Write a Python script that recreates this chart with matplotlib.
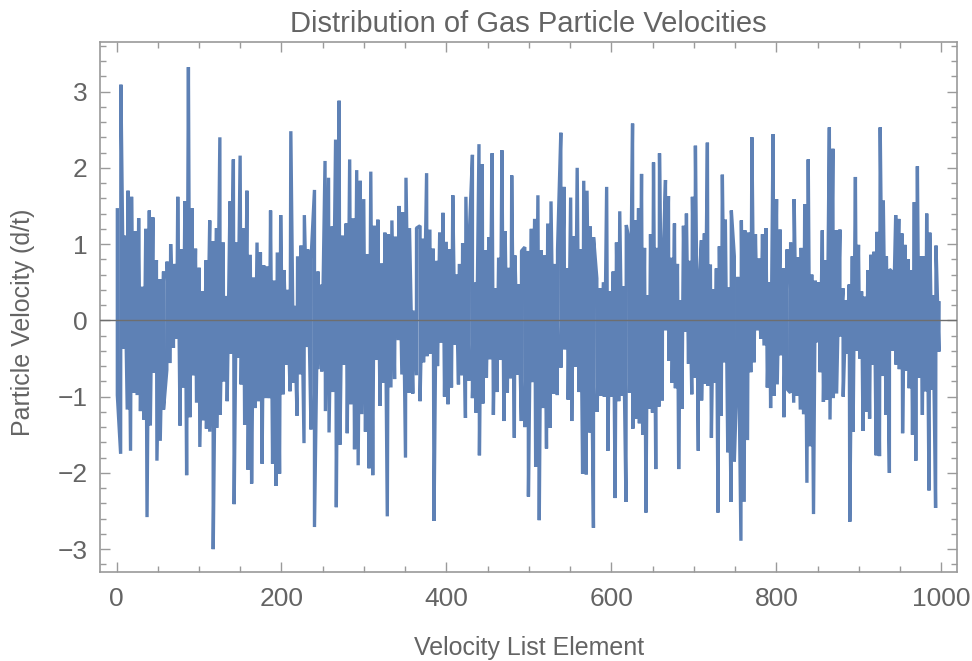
import numpy as np
import matplotlib.pyplot as plt
from matplotlib.ticker import MultipleLocator

# spike tips, grouped by stretch of the x axis
# (upward peaks and downward troughs kept apart, each in left-to-right order)
up_1 = [1.45, 3.09, 1.11, 1.70, 1.62, 1.17, 1.34, 0.44, 1.20, 1.44, 1.35, 0.79, 0.54,
        0.64, 0.77, 1.00, 0.74, 1.62, 0.93, 1.56, 3.32, 1.47, 0.94, 0.69, 0.38, 0.79]
down_1 = [-0.98, -1.75, -0.37, -1.17, -1.71, -0.95, -0.98, -1.19, -1.30, -2.58, -1.38,
          -0.69, -1.84, -1.58, -1.17, -0.65, -0.56, -0.36, -0.24, -1.38, -0.88, -2.03,
          -1.27, -0.72, -1.08, -1.66, -1.31, -1.42]
up_2 = [1.31, 1.04, 1.21, 2.40, 1.02, 0.32, 1.56, 2.11, 1.02, 2.16, 1.21, 1.70, 0.86,
        0.56, 1.02, 0.89, 0.72, 0.71, 1.44, 0.52, 0.89, 1.38, 0.66, 0.40, 2.48, 0.19,
        0.84, 0.98, 1.38, 0.93, 0.81]
down_2 = [-1.46, -3.00, -1.41, -1.24, -0.80, -1.06, -0.44, -2.41, -0.49, -0.84, -1.37,
          -1.96, -2.14, -1.15, -1.06, -1.88, -1.02, -1.02, -1.88, -2.17, -2.01, -0.97,
          -0.58, -0.93, -0.82, -1.25, -0.71, -1.61, -0.35, -1.43]
up_3 = [1.71, 0.64, 0.47, 2.09, 1.87, 1.23, 2.37, 2.88, 1.11, 1.27, 2.11, 1.34, 1.97,
        1.83, 1.59, 0.87, 1.95, 1.24, 1.32, 0.75, 1.15, 1.13, 1.31, 1.10, 1.50, 1.42,
        1.87, 1.21, 0.13, 1.21]
down_3 = [-2.71, -0.64, -0.67, -1.19, -1.47, -0.94, -2.45, -1.63, -0.58, -1.48, -1.10,
          -1.69, -1.90, -1.23, -1.46, -1.94, -2.03, -0.52, -1.12, -0.82, -2.57, -0.88,
          -0.77, -0.26, -0.71, -1.80, -0.95, -0.96, -0.72]
up_4 = [1.24, 1.07, 1.93, 1.19, 0.94, 0.78, 1.15, 1.41, 1.03, 0.93, 1.64, 0.60, 0.74,
        1.01, 1.62, 1.07, 2.17, 0.50, 2.31, 2.05, 0.92, 1.09, 2.19, 0.42, 0.82, 2.23,
        1.17, 0.69, 1.90, 0.85, 0.47, 0.91]
down_4 = [-1.06, -0.55, -0.47, -0.44, -2.63, -0.60, -0.29, -1.00, -1.10, -0.88, -0.32,
          -0.84, -0.72, -1.28, -0.79, -1.02, -1.21, -1.77, -1.09, -0.75, -0.51, -1.24,
          -0.94, -0.52, -1.32, -0.95, -0.76, -1.54, -0.71, -1.32]
up_5 = [0.96, 0.91, 1.20, 1.33, 1.64, 0.92, 0.85, 1.27, 1.56, 0.74, 0.93, 2.46, 1.75,
        0.68, 1.61, 1.10, 2.00, 0.93, 1.83, 1.70, 1.23, 1.09, 0.55, 0.42, 0.50, 1.75,
        0.38, 0.64, 1.02, 1.43, 0.45, 1.25]
down_5 = [-1.40, -2.31, -0.81, -1.92, -2.62, -1.15, -1.68, -1.41, -0.96, -0.98, -0.62,
          -0.38, -1.04, -1.32, -0.61, -0.94, -2.01, -2.02, -1.47, -2.72, -1.20, -0.99,
          -1.00, -1.71, -1.00, -2.33, -1.06, -0.99, -2.38]
up_6 = [1.02, 2.58, 1.31, 1.47, 1.92, 0.95, 0.33, 1.13, 2.07, 0.95, 2.19, 0.48, 1.84,
        1.63, 0.82, 1.27, 0.74, 0.26, 1.24, 1.40, 0.78, 1.62, 2.29, 0.26, 1.05, 1.14,
        2.33, 0.73, 0.41, 0.68, 0.97, 1.91, 1.32, 0.43, 1.44]
down_6 = [-0.95, -1.42, -1.29, -1.35, -1.50, -2.52, -1.16, -1.21, -1.95, -1.13, -1.05,
          -0.13, -0.53, -0.82, -0.89, -1.95, -1.16, -0.15, -0.57, -0.97, -0.75, -1.71,
          -1.05, -0.83, -0.86, -1.54, -0.82, -2.52, -1.25, -0.55, -1.73, -2.38]
up_7 = [0.84, 0.57, 1.31, 1.18, 1.15, 2.40, 1.13, 0.81, 1.13, 1.21, 0.50, 2.44, 1.59,
        1.19, 0.68, 0.93, 1.02, 1.59, 0.83, 0.95, 1.52, 2.11, 0.60, 0.52, 0.50, 1.18,
        0.79, 2.53, 2.25, 1.18]
down_7 = [-1.85, -0.46, -2.89, -2.38, -1.57, -0.68, -0.55, -0.13, -0.24, -0.33, -0.88,
          -1.15, -0.99, -0.84, -0.46, -1.27, -0.90, -0.95, -1.08, -0.99, -1.17, -1.23,
          -2.13, -1.65, -2.54, -0.29, -0.68, -1.07, -1.04, -1.30, -1.02, -0.96]
up_8 = [1.19, 0.42, 0.26, 0.47, 0.84, 1.88, 0.99, 0.38, 0.31, 0.66, 0.86, 0.90, 1.16,
        2.53, 1.57, 0.84, 0.67, 0.63, 1.38, 1.33, 1.14, 0.99, 0.80, 0.66, 1.55, 2.02,
        0.84, 0.84, 1.40, 1.15, 0.33, 0.98, 0.23]
down_8 = [-0.21, -1.00, -0.44, -2.64, -1.46, -0.40, -0.50, -1.45, -1.20, -1.29, -0.58,
          -1.77, -1.78, -0.73, -1.24, -2.00, -0.40, -0.58, -0.64, -1.48, -0.66, -0.89,
          -1.50, -1.84, -0.75, -1.24, -0.93, -2.23, -0.91, -2.46, -0.41]

# list element where each stretch starts (last one is the end)
stretch_edges = [1, 113, 240, 368, 495, 622, 749, 877, 1001]

ups = [up_1, up_2, up_3, up_4, up_5, up_6, up_7, up_8]
downs = [down_1, down_2, down_3, down_4, down_5, down_6, down_7, down_8]

xs, ys = [], []
for lo, hi, u, d in zip(stretch_edges[:-1], stretch_edges[1:], ups, downs):
    pos = np.concatenate([np.linspace(lo, hi, len(u), endpoint=False),
                          np.linspace(lo, hi, len(d), endpoint=False)])
    val = np.concatenate([u, d])
    order = np.argsort(pos, kind='stable')
    xs.extend(pos[order])
    ys.extend(val[order])

text_col = '#646464'
frame_col = '#9a9a9a'
plt.rcParams['font.family'] = ['Liberation Sans', 'DejaVu Sans']

fig = plt.figure(figsize=(9.72, 6.61), dpi=100)
ax = fig.add_axes([0.1029, 0.1346, 0.8817, 0.8019])

ax.plot(xs, ys, color='#5e81b5', lw=2.4, solid_joinstyle='bevel')
ax.axhline(0, color='#6e6e6e', lw=1.0, zorder=3)

ax.set_xlim(-20, 1019)
ax.set_ylim(-3.30, 3.65)
ax.xaxis.set_major_locator(MultipleLocator(200))
ax.xaxis.set_minor_locator(MultipleLocator(50))
ax.yaxis.set_major_locator(MultipleLocator(1))
ax.yaxis.set_minor_locator(MultipleLocator(0.2))
ax.set_yticks(range(-3, 4))
ax.set_yticklabels(['\u22123', '\u22122', '\u22121', '0', '1', '2', '3'])

ax.tick_params(which='both', direction='in', top=True, right=True,
               color=frame_col, width=1.0, labelcolor=text_col, labelsize=19)
ax.tick_params(which='major', length=7)
ax.tick_params(which='minor', length=4)
ax.tick_params(axis='x', pad=11)
ax.tick_params(axis='y', pad=9)
for s in ax.spines.values():
    s.set_color(frame_col)
    s.set_linewidth(1.2)

ax.set_title('Distribution of Gas Particle Velocities', color=text_col, fontsize=21, pad=7)
fig.text(0.544, 0.0197, 'Velocity List Element', color=text_col, fontsize=18,
         ha='center', va='center')
fig.text(0.0236, 0.513, 'Particle Velocity (d/t)', color=text_col, fontsize=18,
         ha='center', va='center', rotation=90)

plt.savefig('out.png', dpi=100)
plt.close()
